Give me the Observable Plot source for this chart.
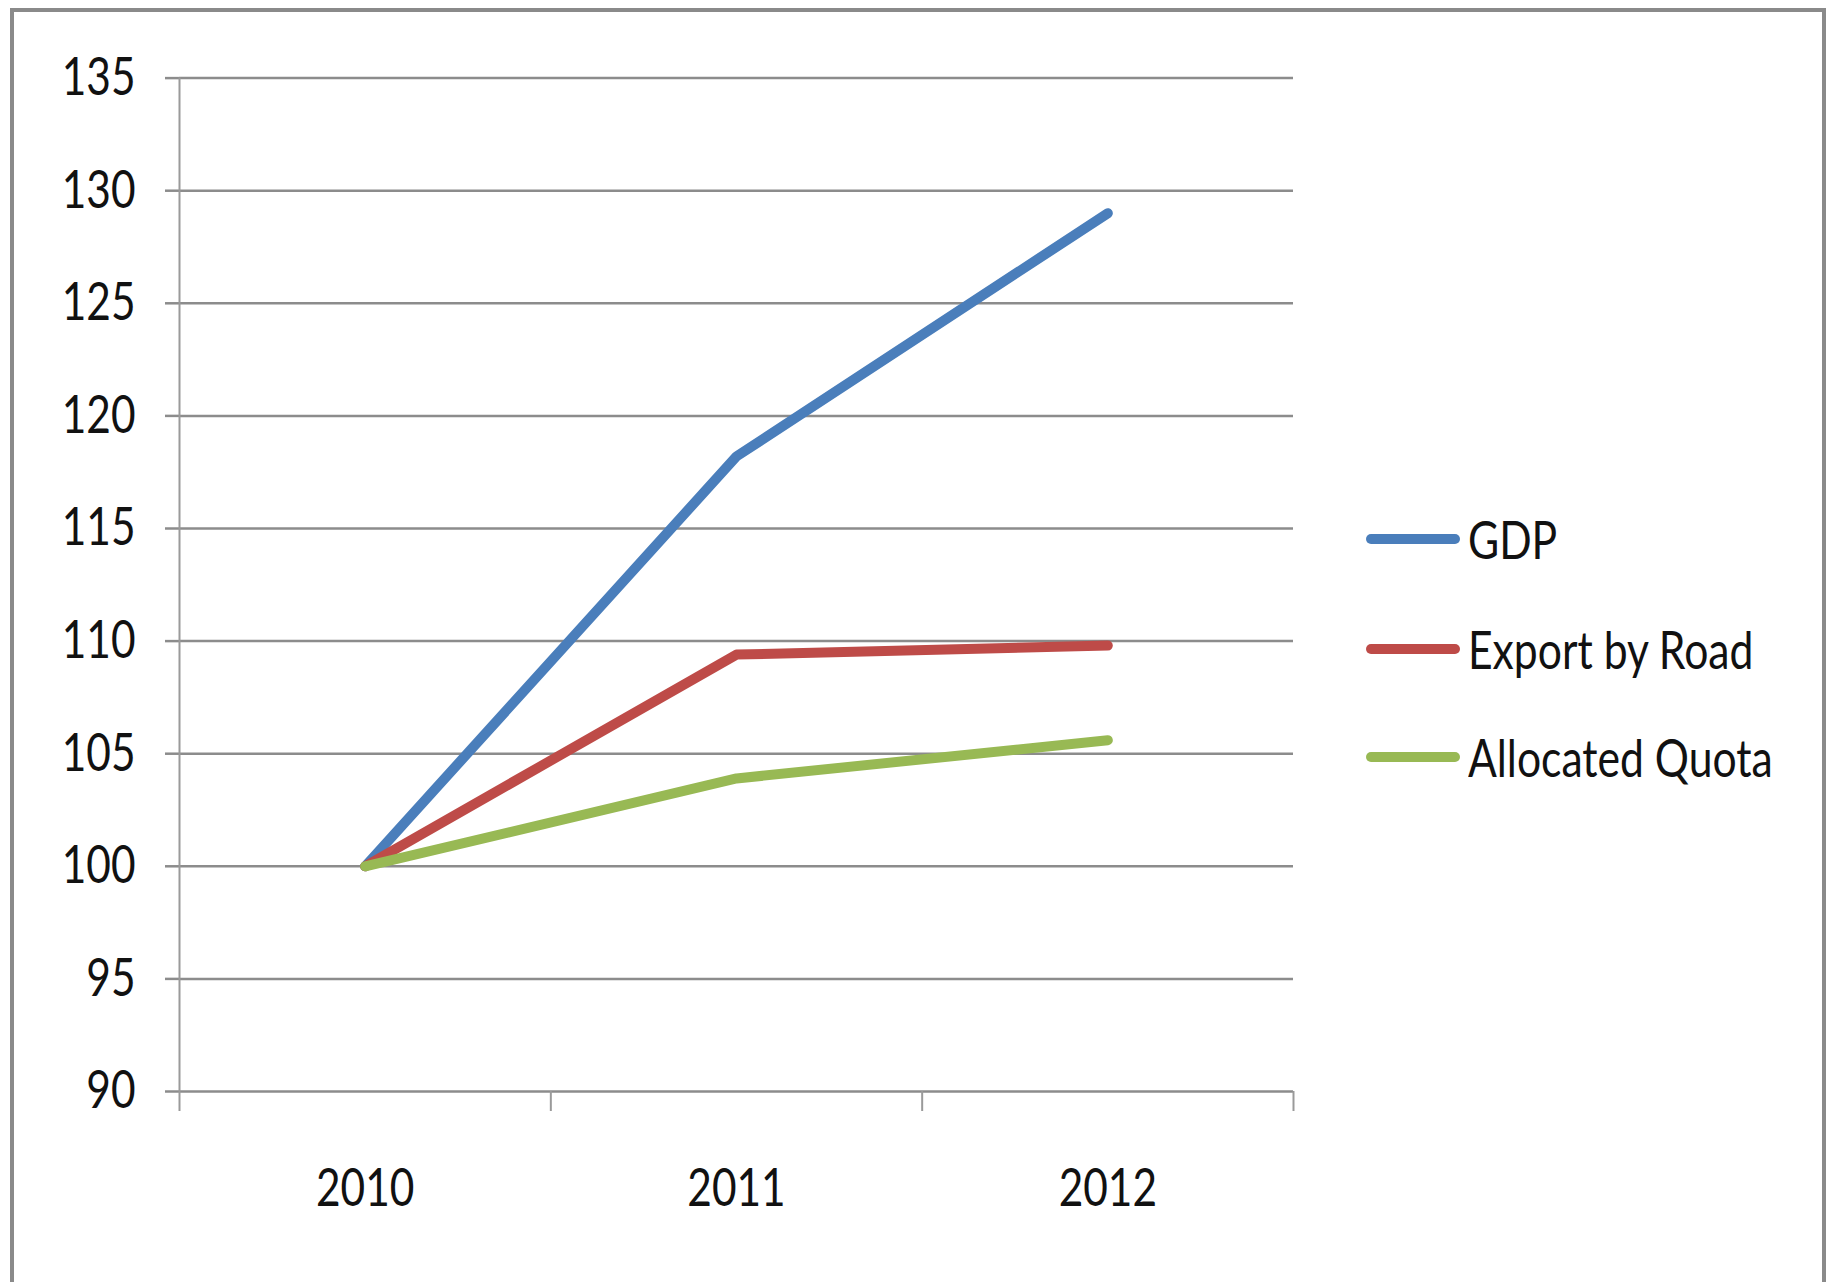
<!DOCTYPE html>
<html>
<head>
<meta charset="utf-8">
<script src="https://cdn.jsdelivr.net/npm/d3@7"></script>
<script src="https://cdn.jsdelivr.net/npm/@observablehq/plot@0.6"></script>
<style>
  html, body { margin: 0; padding: 0; background: #fff; }
  #wrap { position: relative; width: 1843px; height: 1282px; overflow: hidden; }
  #border { position: absolute; left: 10px; top: 8px; width: 1816px; height: 1300px;
            border: 4px solid #8a8a8a; box-sizing: border-box; }
  #legend { position: absolute; left: 1366px; top: 0; font-family: Lato, "Open Sans", sans-serif;
            font-size: 52px; color: #111; }
  .row { position: absolute; left: 0; display: flex; align-items: center; white-space: nowrap; height: 60px; }
  .sw { width: 94px; height: 10px; border-radius: 5px; margin-right: 8px; flex: none; }
  .lab { display: inline-block; transform: scaleX(0.82); transform-origin: left center; }
</style>
</head>
<body>
<div id="wrap">
  <div id="border"></div>
  <div id="chart"></div>
  <div id="legend"></div>
</div>
<script>
const years = [2010, 2011, 2012];
const seriesNames = ["GDP", "Export by Road", "Allocated Quota"];
const seriesColors = ["#4a7ebb", "#be4b48", "#98b954"];
const gdp = [100, 118.2, 129.0];
const exportByRoad = [100, 109.4, 109.8];
const allocatedQuota = [100, 103.9, 105.6];
const yTicks = [90, 95, 100, 105, 110, 115, 120, 125, 130, 135];
const xBoundaries = [2009.5, 2010.5, 2011.5, 2012.5];

const seriesValues = [gdp, exportByRoad, allocatedQuota];
const data = [];
seriesNames.forEach((name, i) => {
  years.forEach((yr, j) => data.push({series: name, year: yr, value: seriesValues[i][j]}));
});

const font = 'Lato, "Open Sans", sans-serif';
const condense = 0.8;

const chart = Plot.plot({
  width: 1843,
  height: 1282,
  marginLeft: 179,
  marginRight: 550,
  marginTop: 77.6,
  marginBottom: 191,
  style: {fontFamily: font, fontSize: "53px", background: "transparent", color: "#111"},
  x: {type: "linear", domain: [xBoundaries[0], xBoundaries[xBoundaries.length - 1]], axis: null},
  y: {domain: [yTicks[0], yTicks[yTicks.length - 1]], axis: null},
  color: {domain: seriesNames, range: seriesColors},
  marks: [
    Plot.gridY(yTicks, {stroke: "#8c8c8c", strokeOpacity: 1, strokeWidth: 2.5}),
    Plot.axisY(yTicks, {tickSize: 14, tickPadding: 30, stroke: "#8c8c8c", strokeWidth: 2.5, strokeOpacity: 1,
                        fill: "#111", fontSize: 53, label: null, tickFormat: d => String(d)}),
    Plot.ruleX([xBoundaries[0]], {stroke: "#9a9a9a", strokeWidth: 2}),
    Plot.axisX(xBoundaries, {tickSize: 20, stroke: "#9a9a9a", strokeWidth: 2, strokeOpacity: 1,
                             tickFormat: () => "", label: null}),
    Plot.axisX(years, {tickSize: 0, tickPadding: 77, fill: "#111", fontSize: 53, label: null,
                       tickFormat: d => String(d)}),
    Plot.lineY(data, {x: "year", y: "value", z: "series", stroke: "series", strokeWidth: 10,
                      strokeLinecap: "round", strokeLinejoin: "round"})
  ]
});
document.getElementById("chart").appendChild(chart);

// condense the tick labels horizontally (the original uses a narrow face)
chart.querySelectorAll("text").forEach(t => {
  const w = t.getComputedTextLength();
  if (w > 0) {
    t.setAttribute("textLength", (w * condense).toFixed(2));
    t.setAttribute("lengthAdjust", "spacingAndGlyphs");
  }
});

const legendTops = [539, 649, 757];
const legend = document.getElementById("legend");
seriesNames.forEach((name, i) => {
  const row = document.createElement("div");
  row.className = "row";
  row.style.top = (legendTops[i] - 30) + "px";
  const sw = document.createElement("div");
  sw.className = "sw";
  sw.style.background = seriesColors[i];
  const t = document.createElement("span");
  t.className = "lab";
  t.textContent = name;
  row.appendChild(sw);
  row.appendChild(t);
  legend.appendChild(row);
});
</script>
</body>
</html>
